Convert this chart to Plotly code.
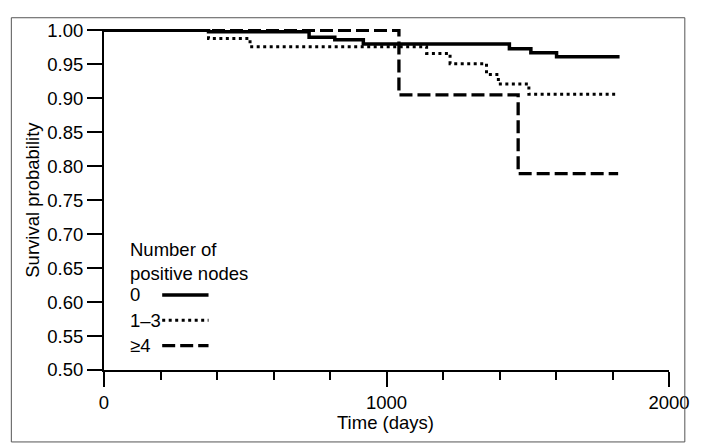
import plotly.graph_objects as go

# Kaplan-Meier step data (time in days, survival probability after each step)
t_0 = [0, 370, 726, 817, 918, 1435, 1511, 1602, 1825]
s_0 = [1.0, 0.998, 0.990, 0.986, 0.980, 0.973, 0.967, 0.961, 0.961]

t_13 = [0, 370, 517, 1142, 1225, 1354, 1396, 1504, 1811]
s_13 = [1.0, 0.988, 0.976, 0.966, 0.951, 0.935, 0.921, 0.906, 0.906]

t_4 = [0, 1044, 1466, 1820]
s_4 = [1.0, 0.905, 0.789, 0.789]

group_names = ["0", "1\u20133", "\u22654"]
legend_title = "Number of<br>positive nodes"
y_ticks = [0.50, 0.55, 0.60, 0.65, 0.70, 0.75, 0.80, 0.85, 0.90, 0.95, 1.00]
x_ticks = [0, 1000, 2000]

FONT = "Liberation Sans, Arial, sans-serif"
FS = 18.5

styles = [
    dict(width=3.5, dash="solid"),
    dict(width=3, dash="3px,3.5px"),
    dict(width=3.3, dash="13px,5px"),
]

fig = go.Figure()
for t, s, name, st in zip([t_0, t_13, t_4], [s_0, s_13, s_4], group_names, styles):
    fig.add_trace(go.Scatter(
        x=t, y=s, mode="lines", name=name, line_shape="hv",
        line=dict(color="black", width=st["width"], dash=st["dash"]),
        showlegend=False,
    ))

# legend (text left, line sample right as in original)
leg_x0 = 0.042
leg_line_x0, leg_line_x1 = 0.103, 0.185
fig.add_annotation(xref="paper", yref="paper", x=leg_x0, y=0.317, xanchor="left", yanchor="middle",
                   text=legend_title, showarrow=False, align="left",
                   font=dict(family=FONT, size=FS, color="black"))
for yy, name, st in zip([0.220, 0.1457, 0.0714], group_names, styles):
    fig.add_annotation(xref="paper", yref="paper", x=leg_x0, y=yy, xanchor="left", yanchor="middle",
                       text=name, showarrow=False, font=dict(family=FONT, size=FS, color="black"))
    fig.add_shape(type="line", xref="paper", yref="paper", x0=leg_line_x0, x1=leg_line_x1, y0=yy, y1=yy,
                  line=dict(color="black", width=st["width"], dash=st["dash"]))

# axis titles
fig.add_annotation(xref="paper", yref="paper", x=-0.127, y=0.5, xanchor="center", yanchor="middle",
                   textangle=-90, text="Survival probability", showarrow=False,
                   font=dict(family=FONT, size=FS, color="black"))
fig.add_annotation(xref="paper", yref="paper", x=0.499, y=-0.154, xanchor="center", yanchor="middle",
                   text="Time (days)", showarrow=False,
                   font=dict(family=FONT, size=FS, color="black"))

# outer frame
fig.add_shape(type="rect", xref="paper", yref="paper", x0=-0.164, x1=1.028, y0=-0.211, y1=1.033,
              line=dict(color="#555555", width=1))

fig.update_layout(
    width=694, height=439,
    margin=dict(l=96, r=25, t=12, b=77),
    paper_bgcolor="white", plot_bgcolor="white",
    font=dict(family=FONT, size=FS, color="black"),
    showlegend=False,
    xaxis=dict(
        range=[0, 2000], tickvals=x_ticks, ticktext=[str(v) for v in x_ticks],
        ticks="outside", ticklen=15, tickwidth=1.5, tickcolor="black",
        minor=dict(dtick=200, ticks="outside", ticklen=8, tickwidth=1.5, tickcolor="black", showgrid=False),
        showline=True, linecolor="black", linewidth=2, showgrid=False, zeroline=False,
    ),
    yaxis=dict(
        range=[0.5, 1.002], tickvals=y_ticks, ticktext=[f"{v:.2f}" for v in y_ticks],
        ticks="outside", ticklen=15, tickwidth=1.5, tickcolor="black",
        showline=True, linecolor="black", linewidth=2, showgrid=False, zeroline=False,
    ),
)

fig.write_html("out.html")
